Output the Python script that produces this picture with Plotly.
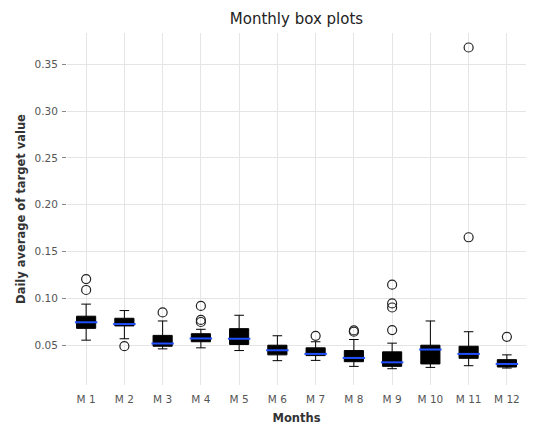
import plotly.graph_objects as go

# monthly box statistics
months = ["M 1", "M 2", "M 3", "M 4", "M 5", "M 6", "M 7", "M 8", "M 9", "M 10", "M 11", "M 12"]
lower_whisker = [0.0554, 0.0569, 0.0461, 0.0472, 0.0443, 0.0335, 0.0338, 0.0274, 0.0249, 0.0263, 0.0281, 0.0256]
q1 = [0.0680, 0.0706, 0.0489, 0.0537, 0.0508, 0.0397, 0.0389, 0.0324, 0.0274, 0.0300, 0.0360, 0.0267]
median = [0.0745, 0.0726, 0.0518, 0.0572, 0.0569, 0.0446, 0.0407, 0.0364, 0.0317, 0.0454, 0.0407, 0.0300]
q3 = [0.0810, 0.0788, 0.0605, 0.0623, 0.0677, 0.0500, 0.0472, 0.0443, 0.0429, 0.0500, 0.0489, 0.0346]
upper_whisker = [0.0939, 0.0870, 0.0759, 0.0670, 0.0820, 0.0601, 0.0537, 0.0561, 0.0522, 0.0759, 0.0644, 0.0397]
outliers = {
    "M 1": [0.1207, 0.1090],
    "M 2": [0.0490],
    "M 3": [0.0850],
    "M 4": [0.0920, 0.0770, 0.0748],
    "M 7": [0.0600],
    "M 8": [0.0658, 0.0644],
    "M 9": [0.1147, 0.0946, 0.0903, 0.0662],
    "M 11": [0.3680, 0.1653],
    "M 12": [0.0590],
}

out_x = [m for m, vals in outliers.items() for _ in vals]
out_y = [v for vals in outliers.values() for v in vals]

fig = go.Figure()
fig.add_trace(go.Box(x=months, q1=q1, median=median, q3=q3,
                     lowerfence=lower_whisker, upperfence=upper_whisker,
                     width=0.5, whiskerwidth=0.5, boxpoints=False,
                     fillcolor="black", line=dict(color="black", width=1),
                     showlegend=False))
# blue median lines on top of the black boxes
fig.add_trace(go.Scatter(x=months, y=median, mode="markers",
                         marker=dict(symbol="line-ew", size=16, line=dict(color="#1f4fff", width=2)),
                         showlegend=False))
fig.add_trace(go.Scatter(x=out_x, y=out_y, mode="markers",
                         marker=dict(symbol="circle-open", size=9, color="#222", line=dict(width=1.2)),
                         showlegend=False))

# page body adds an 8px offset, so margins are set 8px smaller on top/left
fig.update_layout(
    width=536, height=429,
    margin=dict(l=59, r=18, t=25, b=52, autoexpand=False),
    paper_bgcolor="white", plot_bgcolor="white",
    font=dict(family="DejaVu Sans", size=10.5, color="#555"),
    title=dict(text="Monthly box plots", xref="paper", x=0.5, xanchor="center",
               yref="container", y=0.974, yanchor="middle",
               font=dict(size=15, color="#222")),
)
fig.update_xaxes(title=dict(text="<b>Months</b>", font=dict(size=11.5, color="#333"), standoff=10),
                 tickfont=dict(color="#555", size=10.5), automargin=False,
                 showgrid=True, gridcolor="#e5e5e5", showline=False, zeroline=False,
                 ticks="", range=[-0.5, 11.5], ticklabelstandoff=6)
fig.update_yaxes(title=dict(text="<b>Daily average of target value</b>", font=dict(size=11.5, color="#333"), standoff=6),
                 tickfont=dict(color="#555", size=10.5), automargin=False,
                 range=[0.0075, 0.3835], dtick=0.05, tick0=0.05, tickformat=".2f",
                 showgrid=True, gridcolor="#e5e5e5", showline=False, zeroline=False,
                 ticks="outside", ticklen=4, tickcolor="#888", ticklabelstandoff=2)

fig.write_html("out.html")
